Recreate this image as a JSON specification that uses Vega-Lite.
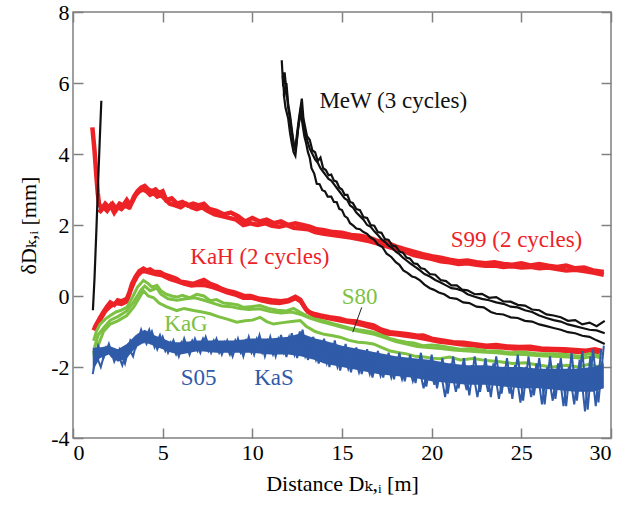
{
"$schema":"https://vega.github.io/schema/vega-lite/v6.json",
"autosize":{"type":"none"},
"padding":{"left":73,"top":12,"right":11,"bottom":68},
"width":538,"height":426,
"background":"white",
"config":{
 "view":{"stroke":"#808080","strokeWidth":1.5},
 "font":"Liberation Serif, Times New Roman, Times, DejaVu Serif, serif",
 "axis":{"labelFont":"Liberation Serif, Times New Roman, Times, DejaVu Serif, serif","titleFont":"Liberation Serif, Times New Roman, Times, DejaVu Serif, serif","labelFontSize":22,"titleFontSize":22,"titleFontWeight":"normal","labelColor":"#000","titleColor":"#000","grid":false,"domain":false,"tickColor":"#808080","tickWidth":1.5,"tickSize":-10}
},
"datasets":{
 "red":[
{"s":"s99a","x":1.08,"y":4.75},{"s":"s99a","x":1.2,"y":4.1},{"s":"s99a","x":1.3,"y":3.4},{"s":"s99a","x":1.38,"y":2.9},{"s":"s99a","x":1.45,"y":2.6},{"s":"s99a","x":1.6,"y":2.45},{"s":"s99a","x":1.8,"y":2.6},{"s":"s99a","x":2.0,"y":2.5},{"s":"s99a","x":2.2,"y":2.6},{"s":"s99a","x":2.4,"y":2.45},{"s":"s99a","x":2.6,"y":2.6},{"s":"s99a","x":2.8,"y":2.55},{"s":"s99a","x":3.0,"y":2.7},{"s":"s99a","x":3.2,"y":2.55},{"s":"s99a","x":3.4,"y":2.8},{"s":"s99a","x":3.6,"y":2.95},{"s":"s99a","x":3.8,"y":3.05},{"s":"s99a","x":4.0,"y":3.1},{"s":"s99a","x":4.2,"y":3.0},{"s":"s99a","x":4.4,"y":2.95},{"s":"s99a","x":4.6,"y":3.0},{"s":"s99a","x":4.8,"y":2.9},{"s":"s99a","x":5.0,"y":2.95},{"s":"s99a","x":5.2,"y":2.7},{"s":"s99a","x":5.5,"y":2.75},{"s":"s99a","x":5.8,"y":2.6},{"s":"s99a","x":6.1,"y":2.65},{"s":"s99a","x":6.4,"y":2.55},{"s":"s99a","x":6.7,"y":2.6},{"s":"s99a","x":7.0,"y":2.55},{"s":"s99a","x":7.3,"y":2.6},{"s":"s99a","x":7.6,"y":2.45},{"s":"s99a","x":8.0,"y":2.4},{"s":"s99a","x":8.4,"y":2.3},{"s":"s99a","x":8.8,"y":2.35},{"s":"s99a","x":9.2,"y":2.25},{"s":"s99a","x":9.6,"y":2.1},{"s":"s99a","x":10.0,"y":2.2},{"s":"s99a","x":10.4,"y":2.1},{"s":"s99a","x":10.8,"y":2.15},{"s":"s99a","x":11.2,"y":2.05},{"s":"s99a","x":11.6,"y":2.1},{"s":"s99a","x":12.0,"y":2.0},{"s":"s99a","x":12.4,"y":2.05},{"s":"s99a","x":12.8,"y":2.0},{"s":"s99a","x":13.2,"y":1.95},{"s":"s99a","x":13.6,"y":1.88},{"s":"s99a","x":14.0,"y":1.85},{"s":"s99a","x":14.5,"y":1.8},{"s":"s99a","x":15.0,"y":1.78},{"s":"s99a","x":15.5,"y":1.72},{"s":"s99a","x":16.0,"y":1.7},{"s":"s99a","x":16.5,"y":1.65},{"s":"s99a","x":17.0,"y":1.55},{"s":"s99a","x":17.5,"y":1.5},{"s":"s99a","x":18.0,"y":1.4},{"s":"s99a","x":18.5,"y":1.32},{"s":"s99a","x":19.0,"y":1.25},{"s":"s99a","x":19.5,"y":1.18},{"s":"s99a","x":20.0,"y":1.12},{"s":"s99a","x":20.5,"y":1.08},{"s":"s99a","x":21.0,"y":1.02},{"s":"s99a","x":21.5,"y":0.98},{"s":"s99a","x":22.0,"y":1.0},{"s":"s99a","x":22.5,"y":0.95},{"s":"s99a","x":23.0,"y":0.92},{"s":"s99a","x":23.5,"y":0.95},{"s":"s99a","x":24.0,"y":0.9},{"s":"s99a","x":24.5,"y":0.88},{"s":"s99a","x":25.0,"y":0.92},{"s":"s99a","x":25.5,"y":0.86},{"s":"s99a","x":26.0,"y":0.9},{"s":"s99a","x":26.5,"y":0.85},{"s":"s99a","x":27.0,"y":0.82},{"s":"s99a","x":27.5,"y":0.86},{"s":"s99a","x":28.0,"y":0.78},{"s":"s99a","x":28.5,"y":0.8},{"s":"s99a","x":29.0,"y":0.72},{"s":"s99a","x":29.6,"y":0.68},
{"s":"s99b","x":1.45,"y":2.35},{"s":"s99b","x":1.7,"y":2.5},{"s":"s99b","x":1.9,"y":2.4},{"s":"s99b","x":2.1,"y":2.55},{"s":"s99b","x":2.3,"y":2.35},{"s":"s99b","x":2.5,"y":2.5},{"s":"s99b","x":2.7,"y":2.45},{"s":"s99b","x":2.9,"y":2.55},{"s":"s99b","x":3.1,"y":2.5},{"s":"s99b","x":3.3,"y":2.65},{"s":"s99b","x":3.5,"y":2.85},{"s":"s99b","x":3.7,"y":2.95},{"s":"s99b","x":3.9,"y":3.0},{"s":"s99b","x":4.1,"y":2.95},{"s":"s99b","x":4.3,"y":2.85},{"s":"s99b","x":4.5,"y":2.9},{"s":"s99b","x":4.7,"y":2.8},{"s":"s99b","x":4.9,"y":2.85},{"s":"s99b","x":5.1,"y":2.75},{"s":"s99b","x":5.4,"y":2.6},{"s":"s99b","x":5.7,"y":2.55},{"s":"s99b","x":6.0,"y":2.5},{"s":"s99b","x":6.3,"y":2.6},{"s":"s99b","x":6.6,"y":2.5},{"s":"s99b","x":6.9,"y":2.45},{"s":"s99b","x":7.2,"y":2.5},{"s":"s99b","x":7.5,"y":2.4},{"s":"s99b","x":7.9,"y":2.3},{"s":"s99b","x":8.3,"y":2.25},{"s":"s99b","x":8.7,"y":2.2},{"s":"s99b","x":9.1,"y":2.15},{"s":"s99b","x":9.5,"y":2.0},{"s":"s99b","x":9.9,"y":2.05},{"s":"s99b","x":10.3,"y":2.0},{"s":"s99b","x":10.7,"y":2.05},{"s":"s99b","x":11.1,"y":1.98},{"s":"s99b","x":11.5,"y":1.95},{"s":"s99b","x":11.9,"y":2.0},{"s":"s99b","x":12.3,"y":1.92},{"s":"s99b","x":12.7,"y":1.9},{"s":"s99b","x":13.1,"y":1.88},{"s":"s99b","x":13.5,"y":1.8},{"s":"s99b","x":14.0,"y":1.75},{"s":"s99b","x":14.5,"y":1.72},{"s":"s99b","x":15.0,"y":1.68},{"s":"s99b","x":15.5,"y":1.65},{"s":"s99b","x":16.0,"y":1.6},{"s":"s99b","x":16.5,"y":1.55},{"s":"s99b","x":17.0,"y":1.48},{"s":"s99b","x":17.5,"y":1.4},{"s":"s99b","x":18.0,"y":1.32},{"s":"s99b","x":18.5,"y":1.25},{"s":"s99b","x":19.0,"y":1.15},{"s":"s99b","x":19.5,"y":1.1},{"s":"s99b","x":20.0,"y":1.05},{"s":"s99b","x":20.5,"y":0.98},{"s":"s99b","x":21.0,"y":0.95},{"s":"s99b","x":21.5,"y":0.9},{"s":"s99b","x":22.0,"y":0.92},{"s":"s99b","x":22.5,"y":0.88},{"s":"s99b","x":23.0,"y":0.85},{"s":"s99b","x":23.5,"y":0.86},{"s":"s99b","x":24.0,"y":0.82},{"s":"s99b","x":24.5,"y":0.84},{"s":"s99b","x":25.0,"y":0.8},{"s":"s99b","x":25.5,"y":0.82},{"s":"s99b","x":26.0,"y":0.78},{"s":"s99b","x":26.5,"y":0.8},{"s":"s99b","x":27.0,"y":0.76},{"s":"s99b","x":27.5,"y":0.72},{"s":"s99b","x":28.0,"y":0.74},{"s":"s99b","x":28.5,"y":0.7},{"s":"s99b","x":29.0,"y":0.66},{"s":"s99b","x":29.6,"y":0.6},
{"s":"kaha","x":1.15,"y":-0.97},{"s":"kaha","x":1.3,"y":-0.8},{"s":"kaha","x":1.52,"y":-0.6},{"s":"kaha","x":1.7,"y":-0.45},{"s":"kaha","x":1.9,"y":-0.3},{"s":"kaha","x":2.08,"y":-0.18},{"s":"kaha","x":2.3,"y":-0.25},{"s":"kaha","x":2.5,"y":-0.12},{"s":"kaha","x":2.7,"y":-0.15},{"s":"kaha","x":3.0,"y":-0.08},{"s":"kaha","x":3.15,"y":0.1},{"s":"kaha","x":3.29,"y":0.34},{"s":"kaha","x":3.5,"y":0.55},{"s":"kaha","x":3.7,"y":0.7},{"s":"kaha","x":3.93,"y":0.77},{"s":"kaha","x":4.1,"y":0.72},{"s":"kaha","x":4.3,"y":0.75},{"s":"kaha","x":4.5,"y":0.68},{"s":"kaha","x":4.86,"y":0.67},{"s":"kaha","x":5.1,"y":0.6},{"s":"kaha","x":5.4,"y":0.55},{"s":"kaha","x":5.79,"y":0.48},{"s":"kaha","x":6.0,"y":0.4},{"s":"kaha","x":6.3,"y":0.38},{"s":"kaha","x":6.72,"y":0.34},{"s":"kaha","x":7.0,"y":0.4},{"s":"kaha","x":7.3,"y":0.45},{"s":"kaha","x":7.65,"y":0.34},{"s":"kaha","x":8.0,"y":0.28},{"s":"kaha","x":8.3,"y":0.2},{"s":"kaha","x":8.58,"y":0.15},{"s":"kaha","x":9.0,"y":0.1},{"s":"kaha","x":9.5,"y":0.01},{"s":"kaha","x":9.9,"y":0.0},{"s":"kaha","x":10.43,"y":-0.08},{"s":"kaha","x":10.8,"y":-0.1},{"s":"kaha","x":11.18,"y":-0.13},{"s":"kaha","x":11.6,"y":-0.15},{"s":"kaha","x":12.0,"y":-0.12},{"s":"kaha","x":12.4,"y":-0.02},{"s":"kaha","x":12.67,"y":-0.1},{"s":"kaha","x":12.9,"y":-0.3},{"s":"kaha","x":13.1,"y":-0.45},{"s":"kaha","x":13.4,"y":-0.5},{"s":"kaha","x":13.8,"y":-0.55},{"s":"kaha","x":14.3,"y":-0.6},{"s":"kaha","x":14.89,"y":-0.64},{"s":"kaha","x":15.3,"y":-0.7},{"s":"kaha","x":15.8,"y":-0.72},{"s":"kaha","x":16.3,"y":-0.78},{"s":"kaha","x":16.75,"y":-0.83},{"s":"kaha","x":17.2,"y":-0.95},{"s":"kaha","x":17.68,"y":-1.02},{"s":"kaha","x":18.2,"y":-1.05},{"s":"kaha","x":18.7,"y":-1.08},{"s":"kaha","x":19.2,"y":-1.12},{"s":"kaha","x":19.53,"y":-1.11},{"s":"kaha","x":20.0,"y":-1.2},{"s":"kaha","x":20.6,"y":-1.25},{"s":"kaha","x":21.2,"y":-1.3},{"s":"kaha","x":21.8,"y":-1.32},{"s":"kaha","x":22.4,"y":-1.36},{"s":"kaha","x":23.06,"y":-1.4},{"s":"kaha","x":23.6,"y":-1.38},{"s":"kaha","x":24.2,"y":-1.42},{"s":"kaha","x":24.9,"y":-1.44},{"s":"kaha","x":25.5,"y":-1.43},{"s":"kaha","x":26.1,"y":-1.48},{"s":"kaha","x":26.77,"y":-1.49},{"s":"kaha","x":27.4,"y":-1.5},{"s":"kaha","x":28.0,"y":-1.52},{"s":"kaha","x":28.6,"y":-1.54},{"s":"kaha","x":29.1,"y":-1.5},{"s":"kaha","x":29.5,"y":-1.55},
{"s":"kahb","x":1.2,"y":-0.9},{"s":"kahb","x":1.5,"y":-0.68},{"s":"kahb","x":1.8,"y":-0.42},{"s":"kahb","x":2.1,"y":-0.28},{"s":"kahb","x":2.4,"y":-0.2},{"s":"kahb","x":2.7,"y":-0.22},{"s":"kahb","x":3.0,"y":-0.15},{"s":"kahb","x":3.2,"y":0.15},{"s":"kahb","x":3.4,"y":0.4},{"s":"kahb","x":3.6,"y":0.58},{"s":"kahb","x":3.8,"y":0.68},{"s":"kahb","x":4.0,"y":0.7},{"s":"kahb","x":4.3,"y":0.66},{"s":"kahb","x":4.6,"y":0.62},{"s":"kahb","x":5.0,"y":0.58},{"s":"kahb","x":5.4,"y":0.48},{"s":"kahb","x":5.8,"y":0.42},{"s":"kahb","x":6.2,"y":0.35},{"s":"kahb","x":6.6,"y":0.3},{"s":"kahb","x":7.0,"y":0.32},{"s":"kahb","x":7.4,"y":0.3},{"s":"kahb","x":7.8,"y":0.25},{"s":"kahb","x":8.2,"y":0.18},{"s":"kahb","x":8.6,"y":0.1},{"s":"kahb","x":9.0,"y":0.05},{"s":"kahb","x":9.5,"y":-0.05},{"s":"kahb","x":10.0,"y":-0.05},{"s":"kahb","x":10.5,"y":-0.12},{"s":"kahb","x":11.0,"y":-0.18},{"s":"kahb","x":11.5,"y":-0.2},{"s":"kahb","x":12.0,"y":-0.15},{"s":"kahb","x":12.4,"y":-0.06},{"s":"kahb","x":12.7,"y":-0.15},{"s":"kahb","x":13.0,"y":-0.38},{"s":"kahb","x":13.4,"y":-0.55},{"s":"kahb","x":14.0,"y":-0.6},{"s":"kahb","x":14.5,"y":-0.65},{"s":"kahb","x":15.0,"y":-0.7},{"s":"kahb","x":15.6,"y":-0.75},{"s":"kahb","x":16.2,"y":-0.82},{"s":"kahb","x":16.8,"y":-0.9},{"s":"kahb","x":17.4,"y":-1.05},{"s":"kahb","x":18.0,"y":-1.08},{"s":"kahb","x":18.6,"y":-1.12},{"s":"kahb","x":19.2,"y":-1.16},{"s":"kahb","x":19.8,"y":-1.22},{"s":"kahb","x":20.4,"y":-1.28},{"s":"kahb","x":21.0,"y":-1.32},{"s":"kahb","x":21.6,"y":-1.36},{"s":"kahb","x":22.2,"y":-1.38},{"s":"kahb","x":22.8,"y":-1.42},{"s":"kahb","x":23.4,"y":-1.44},{"s":"kahb","x":24.0,"y":-1.45},{"s":"kahb","x":24.6,"y":-1.48},{"s":"kahb","x":25.2,"y":-1.47},{"s":"kahb","x":25.8,"y":-1.5},{"s":"kahb","x":26.4,"y":-1.52},{"s":"kahb","x":27.0,"y":-1.53},{"s":"kahb","x":27.6,"y":-1.55},{"s":"kahb","x":28.2,"y":-1.58},{"s":"kahb","x":28.8,"y":-1.55},{"s":"kahb","x":29.5,"y":-1.6}
 ],
 "green":[
{"s":"g1","x":1.15,"y":-1.26},{"s":"g1","x":1.3,"y":-1.0},{"s":"g1","x":1.5,"y":-0.8},{"s":"g1","x":1.8,"y":-0.65},{"s":"g1","x":2.08,"y":-0.55},{"s":"g1","x":2.4,"y":-0.45},{"s":"g1","x":2.7,"y":-0.4},{"s":"g1","x":3.0,"y":-0.32},{"s":"g1","x":3.3,"y":-0.05},{"s":"g1","x":3.6,"y":0.25},{"s":"g1","x":3.93,"y":0.44},{"s":"g1","x":4.2,"y":0.35},{"s":"g1","x":4.4,"y":0.25},{"s":"g1","x":4.68,"y":0.3},{"s":"g1","x":4.9,"y":0.15},{"s":"g1","x":5.2,"y":0.05},{"s":"g1","x":5.5,"y":0.0},{"s":"g1","x":5.79,"y":-0.03},{"s":"g1","x":6.1,"y":0.02},{"s":"g1","x":6.5,"y":-0.05},{"s":"g1","x":6.9,"y":0.05},{"s":"g1","x":7.3,"y":0.0},{"s":"g1","x":7.65,"y":-0.13},{"s":"g1","x":8.0,"y":-0.1},{"s":"g1","x":8.4,"y":-0.2},{"s":"g1","x":8.8,"y":-0.22},{"s":"g1","x":9.2,"y":-0.25},{"s":"g1","x":9.5,"y":-0.32},{"s":"g1","x":9.9,"y":-0.3},{"s":"g1","x":10.43,"y":-0.27},{"s":"g1","x":10.9,"y":-0.35},{"s":"g1","x":11.4,"y":-0.4},{"s":"g1","x":11.9,"y":-0.42},{"s":"g1","x":12.3,"y":-0.35},{"s":"g1","x":12.67,"y":-0.46},{"s":"g1","x":13.0,"y":-0.55},{"s":"g1","x":13.5,"y":-0.65},{"s":"g1","x":14.0,"y":-0.7},{"s":"g1","x":14.5,"y":-0.78},{"s":"g1","x":14.89,"y":-0.83},{"s":"g1","x":15.4,"y":-0.9},{"s":"g1","x":15.9,"y":-0.95},{"s":"g1","x":16.3,"y":-0.98},{"s":"g1","x":16.75,"y":-1.02},{"s":"g1","x":17.2,"y":-1.1},{"s":"g1","x":17.7,"y":-1.2},{"s":"g1","x":18.1,"y":-1.25},{"s":"g1","x":18.6,"y":-1.3},{"s":"g1","x":19.0,"y":-1.32},{"s":"g1","x":19.5,"y":-1.4},{"s":"g1","x":20.0,"y":-1.38},{"s":"g1","x":20.44,"y":-1.4},{"s":"g1","x":21.0,"y":-1.45},{"s":"g1","x":21.6,"y":-1.5},{"s":"g1","x":22.2,"y":-1.48},{"s":"g1","x":23.06,"y":-1.54},{"s":"g1","x":23.7,"y":-1.55},{"s":"g1","x":24.4,"y":-1.6},{"s":"g1","x":25.1,"y":-1.58},{"s":"g1","x":25.8,"y":-1.62},{"s":"g1","x":26.77,"y":-1.63},{"s":"g1","x":27.5,"y":-1.65},{"s":"g1","x":28.2,"y":-1.7},{"s":"g1","x":28.8,"y":-1.62},{"s":"g1","x":29.3,"y":-1.68},{"s":"g1","x":29.55,"y":-1.6},
{"s":"g2","x":1.2,"y":-1.45},{"s":"g2","x":1.4,"y":-1.1},{"s":"g2","x":1.7,"y":-0.9},{"s":"g2","x":2.08,"y":-0.68},{"s":"g2","x":2.5,"y":-0.58},{"s":"g2","x":3.0,"y":-0.42},{"s":"g2","x":3.4,"y":-0.15},{"s":"g2","x":3.8,"y":0.18},{"s":"g2","x":4.0,"y":0.28},{"s":"g2","x":4.3,"y":0.15},{"s":"g2","x":4.68,"y":0.22},{"s":"g2","x":4.9,"y":0.05},{"s":"g2","x":5.3,"y":-0.08},{"s":"g2","x":5.8,"y":-0.12},{"s":"g2","x":6.3,"y":-0.08},{"s":"g2","x":6.8,"y":-0.05},{"s":"g2","x":7.3,"y":-0.12},{"s":"g2","x":7.8,"y":-0.2},{"s":"g2","x":8.3,"y":-0.28},{"s":"g2","x":8.8,"y":-0.3},{"s":"g2","x":9.3,"y":-0.35},{"s":"g2","x":9.8,"y":-0.38},{"s":"g2","x":10.4,"y":-0.36},{"s":"g2","x":11.0,"y":-0.44},{"s":"g2","x":11.6,"y":-0.48},{"s":"g2","x":12.2,"y":-0.45},{"s":"g2","x":12.7,"y":-0.52},{"s":"g2","x":13.2,"y":-0.62},{"s":"g2","x":13.8,"y":-0.72},{"s":"g2","x":14.4,"y":-0.8},{"s":"g2","x":15.0,"y":-0.88},{"s":"g2","x":15.6,"y":-0.96},{"s":"g2","x":16.2,"y":-1.02},{"s":"g2","x":16.8,"y":-1.08},{"s":"g2","x":17.4,"y":-1.18},{"s":"g2","x":18.0,"y":-1.28},{"s":"g2","x":18.6,"y":-1.35},{"s":"g2","x":19.2,"y":-1.42},{"s":"g2","x":19.8,"y":-1.45},{"s":"g2","x":20.5,"y":-1.48},{"s":"g2","x":21.2,"y":-1.52},{"s":"g2","x":22.0,"y":-1.55},{"s":"g2","x":22.8,"y":-1.58},{"s":"g2","x":23.6,"y":-1.6},{"s":"g2","x":24.4,"y":-1.64},{"s":"g2","x":25.2,"y":-1.65},{"s":"g2","x":26.0,"y":-1.68},{"s":"g2","x":26.8,"y":-1.7},{"s":"g2","x":27.6,"y":-1.72},{"s":"g2","x":28.4,"y":-1.75},{"s":"g2","x":29.0,"y":-1.7},{"s":"g2","x":29.55,"y":-1.75},
{"s":"g3","x":1.15,"y":-1.54},{"s":"g3","x":1.24,"y":-1.91},{"s":"g3","x":1.4,"y":-1.4},{"s":"g3","x":1.7,"y":-1.0},{"s":"g3","x":2.08,"y":-0.79},{"s":"g3","x":2.5,"y":-0.7},{"s":"g3","x":3.0,"y":-0.55},{"s":"g3","x":3.4,"y":-0.3},{"s":"g3","x":3.7,"y":-0.05},{"s":"g3","x":3.93,"y":0.15},{"s":"g3","x":4.2,"y":0.0},{"s":"g3","x":4.5,"y":-0.05},{"s":"g3","x":4.8,"y":-0.2},{"s":"g3","x":5.2,"y":-0.3},{"s":"g3","x":5.79,"y":-0.41},{"s":"g3","x":6.2,"y":-0.35},{"s":"g3","x":6.72,"y":-0.41},{"s":"g3","x":7.2,"y":-0.45},{"s":"g3","x":7.65,"y":-0.5},{"s":"g3","x":8.1,"y":-0.58},{"s":"g3","x":8.6,"y":-0.65},{"s":"g3","x":9.13,"y":-0.74},{"s":"g3","x":9.6,"y":-0.7},{"s":"g3","x":10.0,"y":-0.68},{"s":"g3","x":10.43,"y":-0.6},{"s":"g3","x":10.8,"y":-0.72},{"s":"g3","x":11.18,"y":-0.79},{"s":"g3","x":11.7,"y":-0.75},{"s":"g3","x":12.2,"y":-0.72},{"s":"g3","x":12.67,"y":-0.69},{"s":"g3","x":13.0,"y":-0.85},{"s":"g3","x":13.5,"y":-1.0},{"s":"g3","x":14.0,"y":-1.08},{"s":"g3","x":14.5,"y":-1.12},{"s":"g3","x":14.89,"y":-1.16},{"s":"g3","x":15.4,"y":-1.25},{"s":"g3","x":15.9,"y":-1.3},{"s":"g3","x":16.3,"y":-1.32},{"s":"g3","x":16.75,"y":-1.35},{"s":"g3","x":17.2,"y":-1.45},{"s":"g3","x":17.7,"y":-1.55},{"s":"g3","x":18.2,"y":-1.6},{"s":"g3","x":18.6,"y":-1.63},{"s":"g3","x":19.1,"y":-1.7},{"s":"g3","x":19.6,"y":-1.72},{"s":"g3","x":20.0,"y":-1.75},{"s":"g3","x":20.44,"y":-1.77},{"s":"g3","x":21.0,"y":-1.72},{"s":"g3","x":21.6,"y":-1.8},{"s":"g3","x":22.3,"y":-1.76},{"s":"g3","x":23.06,"y":-1.82},{"s":"g3","x":23.8,"y":-1.85},{"s":"g3","x":24.5,"y":-1.9},{"s":"g3","x":25.2,"y":-1.88},{"s":"g3","x":26.0,"y":-1.95},{"s":"g3","x":26.77,"y":-2.0},{"s":"g3","x":27.5,"y":-1.95},{"s":"g3","x":28.2,"y":-2.0},{"s":"g3","x":28.8,"y":-1.92},{"s":"g3","x":29.3,"y":-2.0},{"s":"g3","x":29.55,"y":-1.85}
 ],
 "band":[
{"x":1.1,"hi":-1.45,"lo":-2.1},{"x":1.5,"hi":-1.45,"lo":-1.75},{"x":2.0,"hi":-1.4,"lo":-1.65},{"x":2.5,"hi":-1.5,"lo":-1.85},{"x":3.0,"hi":-1.35,"lo":-1.75},{"x":3.5,"hi":-1.1,"lo":-1.45},{"x":4.0,"hi":-0.95,"lo":-1.3},{"x":4.5,"hi":-1.1,"lo":-1.4},{"x":5.0,"hi":-1.2,"lo":-1.5},{"x":5.5,"hi":-1.3,"lo":-1.6},{"x":6.0,"hi":-1.3,"lo":-1.65},{"x":7.0,"hi":-1.25,"lo":-1.55},{"x":8.0,"hi":-1.25,"lo":-1.6},{"x":9.0,"hi":-1.25,"lo":-1.6},{"x":10.0,"hi":-1.2,"lo":-1.6},{"x":11.0,"hi":-1.2,"lo":-1.65},{"x":12.0,"hi":-1.15,"lo":-1.65},{"x":12.7,"hi":-1.05,"lo":-1.7},{"x":13.5,"hi":-1.2,"lo":-1.8},{"x":14.0,"hi":-1.25,"lo":-1.9},{"x":15.0,"hi":-1.4,"lo":-2.0},{"x":16.0,"hi":-1.5,"lo":-2.1},{"x":17.0,"hi":-1.6,"lo":-2.2},{"x":18.0,"hi":-1.7,"lo":-2.25},{"x":19.0,"hi":-1.75,"lo":-2.3},{"x":20.0,"hi":-1.8,"lo":-2.4},{"x":21.0,"hi":-1.9,"lo":-2.45},{"x":22.0,"hi":-1.95,"lo":-2.5},{"x":23.0,"hi":-1.95,"lo":-2.5},{"x":24.0,"hi":-2.0,"lo":-2.55},{"x":25.0,"hi":-2.0,"lo":-2.6},{"x":26.0,"hi":-2.05,"lo":-2.6},{"x":27.0,"hi":-2.05,"lo":-2.65},{"x":28.0,"hi":-2.05,"lo":-2.7},{"x":29.0,"hi":-2.0,"lo":-2.7},{"x":29.6,"hi":-1.9,"lo":-2.6}
 ],
 "blue":[
{"s":"b1","x":1.1,"y":-2.2},{"s":"b1","x":1.4,"y":-1.4},{"s":"b1","x":1.7,"y":-1.75},{"s":"b1","x":2.0,"y":-1.35},{"s":"b1","x":2.3,"y":-1.85},{"s":"b1","x":2.6,"y":-1.5},{"s":"b1","x":2.9,"y":-1.9},{"s":"b1","x":3.2,"y":-1.25},{"s":"b1","x":3.5,"y":-1.45},{"s":"b1","x":3.8,"y":-0.95},{"s":"b1","x":4.1,"y":-1.35},{"s":"b1","x":4.4,"y":-1.0},{"s":"b1","x":4.7,"y":-1.5},{"s":"b1","x":5.0,"y":-1.15},{"s":"b1","x":5.3,"y":-1.6},{"s":"b1","x":5.6,"y":-1.25},{"s":"b1","x":5.9,"y":-1.7},{"s":"b1","x":6.2,"y":-1.2},{"s":"b1","x":6.5,"y":-1.65},{"s":"b1","x":6.8,"y":-1.2},{"s":"b1","x":7.1,"y":-1.6},{"s":"b1","x":7.4,"y":-1.15},{"s":"b1","x":7.7,"y":-1.6},{"s":"b1","x":8.0,"y":-1.2},{"s":"b1","x":8.3,"y":-1.65},{"s":"b1","x":8.6,"y":-1.25},{"s":"b1","x":8.9,"y":-1.7},{"s":"b1","x":9.2,"y":-1.2},{"s":"b1","x":9.5,"y":-1.7},{"s":"b1","x":9.8,"y":-1.15},{"s":"b1","x":10.1,"y":-1.65},{"s":"b1","x":10.4,"y":-1.1},{"s":"b1","x":10.7,"y":-1.7},{"s":"b1","x":11.0,"y":-1.15},{"s":"b1","x":11.3,"y":-1.7},{"s":"b1","x":11.6,"y":-1.1},{"s":"b1","x":11.9,"y":-1.72},{"s":"b1","x":12.2,"y":-1.05},{"s":"b1","x":12.5,"y":-1.75},{"s":"b1","x":12.8,"y":-0.95},{"s":"b1","x":13.1,"y":-1.8},{"s":"b1","x":13.4,"y":-1.15},{"s":"b1","x":13.7,"y":-1.9},{"s":"b1","x":14.0,"y":-1.2},{"s":"b1","x":14.3,"y":-2.0},{"s":"b1","x":14.6,"y":-1.25},{"s":"b1","x":14.9,"y":-2.1},{"s":"b1","x":15.2,"y":-1.35},{"s":"b1","x":15.5,"y":-2.15},{"s":"b1","x":15.8,"y":-1.45},{"s":"b1","x":16.1,"y":-2.2},{"s":"b1","x":16.4,"y":-1.5},{"s":"b1","x":16.7,"y":-2.3},{"s":"b1","x":17.0,"y":-1.55},{"s":"b1","x":17.3,"y":-2.3},{"s":"b1","x":17.6,"y":-1.6},{"s":"b1","x":17.9,"y":-2.35},{"s":"b1","x":18.2,"y":-1.6},{"s":"b1","x":18.5,"y":-2.4},{"s":"b1","x":18.8,"y":-1.65},{"s":"b1","x":19.1,"y":-2.45},{"s":"b1","x":19.4,"y":-1.6},{"s":"b1","x":19.7,"y":-2.55},{"s":"b1","x":20.0,"y":-1.65},{"s":"b1","x":20.3,"y":-2.6},{"s":"b1","x":20.6,"y":-1.75},{"s":"b1","x":20.9,"y":-2.75},{"s":"b1","x":21.2,"y":-1.7},{"s":"b1","x":21.5,"y":-2.6},{"s":"b1","x":21.8,"y":-1.75},{"s":"b1","x":22.1,"y":-2.8},{"s":"b1","x":22.4,"y":-1.7},{"s":"b1","x":22.7,"y":-2.7},{"s":"b1","x":23.0,"y":-1.75},{"s":"b1","x":23.3,"y":-2.85},{"s":"b1","x":23.6,"y":-1.7},{"s":"b1","x":23.9,"y":-2.75},{"s":"b1","x":24.2,"y":-1.75},{"s":"b1","x":24.5,"y":-2.9},{"s":"b1","x":24.8,"y":-1.65},{"s":"b1","x":25.1,"y":-2.95},{"s":"b1","x":25.4,"y":-1.7},{"s":"b1","x":25.7,"y":-2.8},{"s":"b1","x":26.0,"y":-1.75},{"s":"b1","x":26.3,"y":-3.05},{"s":"b1","x":26.6,"y":-1.7},{"s":"b1","x":26.9,"y":-2.9},{"s":"b1","x":27.2,"y":-1.75},{"s":"b1","x":27.5,"y":-3.1},{"s":"b1","x":27.8,"y":-1.6},{"s":"b1","x":28.1,"y":-2.95},{"s":"b1","x":28.4,"y":-1.55},{"s":"b1","x":28.7,"y":-3.2},{"s":"b1","x":29.0,"y":-1.5},{"s":"b1","x":29.3,"y":-3.0},{"s":"b1","x":29.6,"y":-1.4},
{"s":"b2","x":1.25,"y":-1.6},{"s":"b2","x":1.55,"y":-2.0},{"s":"b2","x":1.85,"y":-1.45},{"s":"b2","x":2.15,"y":-1.7},{"s":"b2","x":2.45,"y":-1.55},{"s":"b2","x":2.75,"y":-1.95},{"s":"b2","x":3.05,"y":-1.4},{"s":"b2","x":3.35,"y":-1.7},{"s":"b2","x":3.65,"y":-1.1},{"s":"b2","x":3.95,"y":-1.3},{"s":"b2","x":4.25,"y":-0.95},{"s":"b2","x":4.55,"y":-1.45},{"s":"b2","x":4.85,"y":-1.1},{"s":"b2","x":5.15,"y":-1.55},{"s":"b2","x":5.45,"y":-1.3},{"s":"b2","x":5.75,"y":-1.65},{"s":"b2","x":6.05,"y":-1.3},{"s":"b2","x":6.35,"y":-1.55},{"s":"b2","x":6.65,"y":-1.25},{"s":"b2","x":6.95,"y":-1.55},{"s":"b2","x":7.25,"y":-1.2},{"s":"b2","x":7.55,"y":-1.55},{"s":"b2","x":7.85,"y":-1.25},{"s":"b2","x":8.15,"y":-1.6},{"s":"b2","x":8.45,"y":-1.3},{"s":"b2","x":8.75,"y":-1.65},{"s":"b2","x":9.05,"y":-1.25},{"s":"b2","x":9.35,"y":-1.6},{"s":"b2","x":9.65,"y":-1.25},{"s":"b2","x":9.95,"y":-1.6},{"s":"b2","x":10.25,"y":-1.2},{"s":"b2","x":10.55,"y":-1.6},{"s":"b2","x":10.85,"y":-1.25},{"s":"b2","x":11.15,"y":-1.65},{"s":"b2","x":11.45,"y":-1.2},{"s":"b2","x":11.75,"y":-1.6},{"s":"b2","x":12.05,"y":-1.15},{"s":"b2","x":12.35,"y":-1.65},{"s":"b2","x":12.65,"y":-1.0},{"s":"b2","x":12.95,"y":-1.7},{"s":"b2","x":13.25,"y":-1.3},{"s":"b2","x":13.55,"y":-1.8},{"s":"b2","x":13.85,"y":-1.35},{"s":"b2","x":14.15,"y":-1.9},{"s":"b2","x":14.45,"y":-1.4},{"s":"b2","x":14.75,"y":-2.0},{"s":"b2","x":15.05,"y":-1.5},{"s":"b2","x":15.35,"y":-2.05},{"s":"b2","x":15.65,"y":-1.6},{"s":"b2","x":15.95,"y":-2.15},{"s":"b2","x":16.25,"y":-1.65},{"s":"b2","x":16.55,"y":-2.2},{"s":"b2","x":16.85,"y":-1.7},{"s":"b2","x":17.15,"y":-2.25},{"s":"b2","x":17.45,"y":-1.75},{"s":"b2","x":17.75,"y":-2.3},{"s":"b2","x":18.05,"y":-1.8},{"s":"b2","x":18.35,"y":-2.35},{"s":"b2","x":18.65,"y":-1.85},{"s":"b2","x":18.95,"y":-2.4},{"s":"b2","x":19.25,"y":-1.9},{"s":"b2","x":19.55,"y":-2.6},{"s":"b2","x":19.85,"y":-1.85},{"s":"b2","x":20.15,"y":-2.5},{"s":"b2","x":20.45,"y":-1.95},{"s":"b2","x":20.75,"y":-2.85},{"s":"b2","x":21.05,"y":-1.9},{"s":"b2","x":21.35,"y":-2.7},{"s":"b2","x":21.65,"y":-2.0},{"s":"b2","x":21.95,"y":-2.65},{"s":"b2","x":22.25,"y":-1.95},{"s":"b2","x":22.55,"y":-2.85},{"s":"b2","x":22.85,"y":-2.0},{"s":"b2","x":23.15,"y":-2.7},{"s":"b2","x":23.45,"y":-1.9},{"s":"b2","x":23.75,"y":-2.9},{"s":"b2","x":24.05,"y":-2.0},{"s":"b2","x":24.35,"y":-2.75},{"s":"b2","x":24.65,"y":-1.95},{"s":"b2","x":24.95,"y":-3.0},{"s":"b2","x":25.25,"y":-2.0},{"s":"b2","x":25.55,"y":-2.85},{"s":"b2","x":25.85,"y":-1.9},{"s":"b2","x":26.15,"y":-3.05},{"s":"b2","x":26.45,"y":-2.0},{"s":"b2","x":26.75,"y":-2.95},{"s":"b2","x":27.05,"y":-1.9},{"s":"b2","x":27.35,"y":-3.1},{"s":"b2","x":27.65,"y":-2.0},{"s":"b2","x":27.95,"y":-3.05},{"s":"b2","x":28.25,"y":-1.8},{"s":"b2","x":28.55,"y":-3.25},{"s":"b2","x":28.85,"y":-1.7},{"s":"b2","x":29.15,"y":-3.1},{"s":"b2","x":29.45,"y":-1.5}
 ],
 "black":[
{"s":"k0","x":1.11,"y":-0.4},{"s":"k0","x":1.2,"y":0.5},{"s":"k0","x":1.3,"y":1.8},{"s":"k0","x":1.4,"y":3.2},{"s":"k0","x":1.5,"y":4.5},{"s":"k0","x":1.58,"y":5.5},
{"s":"k1","x":11.64,"y":6.64},{"s":"k1","x":11.72,"y":5.9},{"s":"k1","x":11.8,"y":6.3},{"s":"k1","x":11.9,"y":5.8},{"s":"k1","x":12.0,"y":5.3},{"s":"k1","x":12.1,"y":5.0},{"s":"k1","x":12.2,"y":4.6},{"s":"k1","x":12.3,"y":4.3},{"s":"k1","x":12.38,"y":4.1},{"s":"k1","x":12.5,"y":4.6},{"s":"k1","x":12.6,"y":5.0},{"s":"k1","x":12.76,"y":5.56},{"s":"k1","x":12.85,"y":5.0},{"s":"k1","x":12.95,"y":4.75},{"s":"k1","x":13.05,"y":4.5},{"s":"k1","x":13.2,"y":4.4},{"s":"k1","x":13.35,"y":4.1},{"s":"k1","x":13.5,"y":4.05},{"s":"k1","x":13.65,"y":3.8},{"s":"k1","x":13.8,"y":3.9},{"s":"k1","x":13.95,"y":3.6},{"s":"k1","x":14.1,"y":3.55},{"s":"k1","x":14.25,"y":3.4},{"s":"k1","x":14.4,"y":3.42},{"s":"k1","x":14.55,"y":3.25},{"s":"k1","x":14.7,"y":3.22},{"s":"k1","x":14.85,"y":3.05},{"s":"k1","x":15.0,"y":3.0},{"s":"k1","x":15.15,"y":2.85},{"s":"k1","x":15.3,"y":2.85},{"s":"k1","x":15.45,"y":2.65},{"s":"k1","x":15.6,"y":2.62},{"s":"k1","x":15.8,"y":2.45},{"s":"k1","x":16.0,"y":2.42},{"s":"k1","x":16.2,"y":2.22},{"s":"k1","x":16.4,"y":2.2},{"s":"k1","x":16.6,"y":2.0},{"s":"k1","x":16.8,"y":1.98},{"s":"k1","x":17.0,"y":1.8},{"s":"k1","x":17.2,"y":1.78},{"s":"k1","x":17.4,"y":1.6},{"s":"k1","x":17.6,"y":1.58},{"s":"k1","x":17.8,"y":1.42},{"s":"k1","x":18.0,"y":1.4},{"s":"k1","x":18.2,"y":1.25},{"s":"k1","x":18.4,"y":1.22},{"s":"k1","x":18.6,"y":1.08},{"s":"k1","x":18.8,"y":1.05},{"s":"k1","x":19.0,"y":0.92},{"s":"k1","x":19.2,"y":0.9},{"s":"k1","x":19.4,"y":0.78},{"s":"k1","x":19.6,"y":0.76},{"s":"k1","x":19.9,"y":0.62},{"s":"k1","x":20.2,"y":0.6},{"s":"k1","x":20.5,"y":0.45},{"s":"k1","x":20.8,"y":0.42},{"s":"k1","x":21.1,"y":0.3},{"s":"k1","x":21.4,"y":0.3},{"s":"k1","x":21.7,"y":0.18},{"s":"k1","x":22.0,"y":0.16},{"s":"k1","x":22.4,"y":0.05},{"s":"k1","x":22.8,"y":0.06},{"s":"k1","x":23.2,"y":-0.05},{"s":"k1","x":23.6,"y":-0.03},{"s":"k1","x":24.0,"y":-0.15},{"s":"k1","x":24.4,"y":-0.16},{"s":"k1","x":24.8,"y":-0.25},{"s":"k1","x":25.2,"y":-0.27},{"s":"k1","x":25.6,"y":-0.38},{"s":"k1","x":26.0,"y":-0.4},{"s":"k1","x":26.4,"y":-0.52},{"s":"k1","x":26.8,"y":-0.55},{"s":"k1","x":27.2,"y":-0.6},{"s":"k1","x":27.6,"y":-0.7},{"s":"k1","x":28.0,"y":-0.68},{"s":"k1","x":28.4,"y":-0.8},{"s":"k1","x":28.8,"y":-0.75},{"s":"k1","x":29.2,"y":-0.85},{"s":"k1","x":29.65,"y":-0.7},
{"s":"k2","x":11.7,"y":6.2},{"s":"k2","x":11.78,"y":5.6},{"s":"k2","x":11.9,"y":6.0},{"s":"k2","x":12.0,"y":5.4},{"s":"k2","x":12.1,"y":5.1},{"s":"k2","x":12.2,"y":4.7},{"s":"k2","x":12.32,"y":4.25},{"s":"k2","x":12.42,"y":4.15},{"s":"k2","x":12.55,"y":4.7},{"s":"k2","x":12.7,"y":5.3},{"s":"k2","x":12.8,"y":5.1},{"s":"k2","x":12.92,"y":4.6},{"s":"k2","x":13.05,"y":4.4},{"s":"k2","x":13.2,"y":4.15},{"s":"k2","x":13.35,"y":4.0},{"s":"k2","x":13.5,"y":3.85},{"s":"k2","x":13.65,"y":3.75},{"s":"k2","x":13.8,"y":3.6},{"s":"k2","x":13.95,"y":3.5},{"s":"k2","x":14.1,"y":3.4},{"s":"k2","x":14.25,"y":3.3},{"s":"k2","x":14.4,"y":3.25},{"s":"k2","x":14.55,"y":3.15},{"s":"k2","x":14.7,"y":3.05},{"s":"k2","x":14.85,"y":2.95},{"s":"k2","x":15.0,"y":2.85},{"s":"k2","x":15.15,"y":2.75},{"s":"k2","x":15.3,"y":2.7},{"s":"k2","x":15.45,"y":2.55},{"s":"k2","x":15.6,"y":2.5},{"s":"k2","x":15.8,"y":2.35},{"s":"k2","x":16.0,"y":2.25},{"s":"k2","x":16.2,"y":2.15},{"s":"k2","x":16.4,"y":2.0},{"s":"k2","x":16.6,"y":1.95},{"s":"k2","x":16.8,"y":1.82},{"s":"k2","x":17.0,"y":1.72},{"s":"k2","x":17.2,"y":1.6},{"s":"k2","x":17.4,"y":1.52},{"s":"k2","x":17.6,"y":1.42},{"s":"k2","x":17.8,"y":1.35},{"s":"k2","x":18.0,"y":1.25},{"s":"k2","x":18.2,"y":1.18},{"s":"k2","x":18.4,"y":1.08},{"s":"k2","x":18.6,"y":1.0},{"s":"k2","x":18.8,"y":0.92},{"s":"k2","x":19.0,"y":0.85},{"s":"k2","x":19.2,"y":0.78},{"s":"k2","x":19.4,"y":0.7},{"s":"k2","x":19.6,"y":0.62},{"s":"k2","x":19.9,"y":0.55},{"s":"k2","x":20.2,"y":0.45},{"s":"k2","x":20.5,"y":0.38},{"s":"k2","x":20.8,"y":0.3},{"s":"k2","x":21.1,"y":0.22},{"s":"k2","x":21.4,"y":0.2},{"s":"k2","x":21.7,"y":0.15},{"s":"k2","x":22.0,"y":0.05},{"s":"k2","x":22.4,"y":-0.02},{"s":"k2","x":22.8,"y":-0.08},{"s":"k2","x":23.2,"y":-0.12},{"s":"k2","x":23.6,"y":-0.18},{"s":"k2","x":24.0,"y":-0.22},{"s":"k2","x":24.4,"y":-0.3},{"s":"k2","x":24.8,"y":-0.32},{"s":"k2","x":25.2,"y":-0.4},{"s":"k2","x":25.6,"y":-0.45},{"s":"k2","x":26.0,"y":-0.55},{"s":"k2","x":26.4,"y":-0.62},{"s":"k2","x":26.8,"y":-0.68},{"s":"k2","x":27.2,"y":-0.72},{"s":"k2","x":27.6,"y":-0.8},{"s":"k2","x":28.0,"y":-0.85},{"s":"k2","x":28.4,"y":-0.9},{"s":"k2","x":28.8,"y":-0.95},{"s":"k2","x":29.2,"y":-0.97},{"s":"k2","x":29.65,"y":-1.05},
{"s":"k3","x":11.75,"y":5.7},{"s":"k3","x":11.85,"y":5.3},{"s":"k3","x":12.0,"y":5.0},{"s":"k3","x":12.1,"y":4.6},{"s":"k3","x":12.2,"y":4.3},{"s":"k3","x":12.3,"y":4.05},{"s":"k3","x":12.4,"y":3.95},{"s":"k3","x":12.55,"y":4.7},{"s":"k3","x":12.7,"y":5.2},{"s":"k3","x":12.78,"y":4.9},{"s":"k3","x":12.9,"y":4.5},{"s":"k3","x":13.0,"y":4.3},{"s":"k3","x":13.1,"y":4.05},{"s":"k3","x":13.2,"y":3.9},{"s":"k3","x":13.3,"y":3.6},{"s":"k3","x":13.45,"y":3.45},{"s":"k3","x":13.59,"y":3.16},{"s":"k3","x":13.75,"y":3.15},{"s":"k3","x":13.9,"y":2.98},{"s":"k3","x":14.05,"y":2.95},{"s":"k3","x":14.2,"y":2.8},{"s":"k3","x":14.4,"y":2.8},{"s":"k3","x":14.55,"y":2.65},{"s":"k3","x":14.71,"y":2.64},{"s":"k3","x":14.85,"y":2.45},{"s":"k3","x":15.0,"y":2.42},{"s":"k3","x":15.15,"y":2.25},{"s":"k3","x":15.3,"y":2.2},{"s":"k3","x":15.45,"y":2.05},{"s":"k3","x":15.63,"y":1.98},{"s":"k3","x":15.8,"y":1.9},{"s":"k3","x":16.0,"y":1.88},{"s":"k3","x":16.2,"y":1.8},{"s":"k3","x":16.4,"y":1.75},{"s":"k3","x":16.56,"y":1.66},{"s":"k3","x":16.8,"y":1.58},{"s":"k3","x":17.0,"y":1.45},{"s":"k3","x":17.25,"y":1.38},{"s":"k3","x":17.49,"y":1.19},{"s":"k3","x":17.75,"y":1.1},{"s":"k3","x":18.0,"y":0.95},{"s":"k3","x":18.2,"y":0.88},{"s":"k3","x":18.42,"y":0.72},{"s":"k3","x":18.65,"y":0.65},{"s":"k3","x":18.9,"y":0.55},{"s":"k3","x":19.1,"y":0.52},{"s":"k3","x":19.35,"y":0.44},{"s":"k3","x":19.6,"y":0.32},{"s":"k3","x":19.9,"y":0.22},{"s":"k3","x":20.1,"y":0.18},{"s":"k3","x":20.4,"y":0.1},{"s":"k3","x":20.7,"y":0.05},{"s":"k3","x":21.0,"y":-0.05},{"s":"k3","x":21.4,"y":-0.08},{"s":"k3","x":21.76,"y":-0.18},{"s":"k3","x":22.1,"y":-0.2},{"s":"k3","x":22.5,"y":-0.3},{"s":"k3","x":22.9,"y":-0.32},{"s":"k3","x":23.3,"y":-0.45},{"s":"k3","x":23.6,"y":-0.5},{"s":"k3","x":24.0,"y":-0.52},{"s":"k3","x":24.4,"y":-0.6},{"s":"k3","x":24.8,"y":-0.62},{"s":"k3","x":25.2,"y":-0.7},{"s":"k3","x":25.6,"y":-0.72},{"s":"k3","x":26.0,"y":-0.8},{"s":"k3","x":26.4,"y":-0.85},{"s":"k3","x":26.8,"y":-0.9},{"s":"k3","x":27.2,"y":-0.95},{"s":"k3","x":27.6,"y":-1.02},{"s":"k3","x":28.0,"y":-1.05},{"s":"k3","x":28.4,"y":-1.12},{"s":"k3","x":28.8,"y":-1.15},{"s":"k3","x":29.2,"y":-1.25},{"s":"k3","x":29.65,"y":-1.35}
 ],
 "labels":[
{"t":"MeW (3 cycles)","x":13.74,"y":5.3,"c":"k"},
{"t":"S99 (2 cycles)","x":21.06,"y":1.37,"c":"r"},
{"t":"KaH (2 cycles)","x":6.54,"y":0.89,"c":"r"},
{"t":"S80","x":14.98,"y":-0.22,"c":"g"},
{"t":"KaG","x":5.09,"y":-0.99,"c":"g"},
{"t":"S05","x":6.01,"y":-2.5,"c":"b"},
{"t":"KaS","x":10.1,"y":-2.5,"c":"b"}
 ],
 "leader":[{"x":16.1,"y":-0.32,"x2":15.6,"y2":-1.02}]
},
"resolve":{"axis":{"x":"independent","y":"independent"}},
"layer":[
 {"data":{"name":"red"},"mark":{"type":"line","color":"#ec2227","strokeWidth":4.5,"clip":true},
  "encoding":{
   "x":{"field":"x","type":"quantitative","scale":{"domain":[0,30],"nice":false},"axis":{"values":[0,5,10,15,20,25,30],"title":"Distance Dₖ,ᵢ [m]","labelPadding":14,"titlePadding":10}},
   "y":{"field":"y","type":"quantitative","scale":{"domain":[-4,8],"nice":false},"axis":{"values":[-4,-2,0,2,4,6,8],"title":"δDₖ,ᵢ [mm]","labelExpr":"datum.value","labelPadding":14,"titlePadding":10}},
   "detail":{"field":"s"},"order":{"field":"x","type":"quantitative"}}},
 {"data":{"name":"green"},"mark":{"type":"line","color":"#7dc142","strokeWidth":3,"clip":true},
  "encoding":{"x":{"field":"x","type":"quantitative","axis":null},"y":{"field":"y","type":"quantitative","axis":null},"detail":{"field":"s"},"order":{"field":"x","type":"quantitative"}}},
 {"data":{"name":"band"},"mark":{"type":"area","color":"#2f5ba8","opacity":1,"clip":true},
  "encoding":{"x":{"field":"x","type":"quantitative","axis":null},"y":{"field":"hi","type":"quantitative","axis":null},"y2":{"field":"lo"}}},
 {"data":{"name":"blue"},"mark":{"type":"line","color":"#2f5ba8","strokeWidth":2,"clip":true},
  "encoding":{"x":{"field":"x","type":"quantitative","axis":null},"y":{"field":"y","type":"quantitative","axis":null},"detail":{"field":"s"},"order":{"field":"x","type":"quantitative"}}},
 {"data":{"name":"black"},"mark":{"type":"line","color":"#111111","strokeWidth":2.2,"clip":true},
  "encoding":{"x":{"field":"x","type":"quantitative","axis":null},"y":{"field":"y","type":"quantitative","axis":null},"detail":{"field":"s"},"order":{"field":"x","type":"quantitative"}}},
 {"data":{"name":"leader"},"mark":{"type":"rule","color":"#222222","strokeWidth":1},
  "encoding":{"x":{"field":"x","type":"quantitative","axis":null},"y":{"field":"y","type":"quantitative","axis":null},"x2":{"field":"x2"},"y2":{"field":"y2"}}},
 {"data":{"name":"labels"},"mark":{"type":"text","align":"left","baseline":"alphabetic","font":"Liberation Serif, Times New Roman, Times, DejaVu Serif, serif","fontSize":23},
  "encoding":{"x":{"field":"x","type":"quantitative","axis":null},"y":{"field":"y","type":"quantitative","axis":null},"text":{"field":"t"},
   "color":{"field":"c","type":"nominal","scale":{"domain":["k","r","g","b"],"range":["#111111","#ec2227","#7dc142","#2f5ba8"]},"legend":null}}},
 {"data":{"name":"leader"},"mark":{"type":"point","opacity":0},
  "encoding":{"x":{"field":"x","type":"quantitative","axis":{"orient":"top","values":[0,5,10,15,20,25,30],"labels":false,"title":null}},"y":{"field":"y","type":"quantitative","axis":{"orient":"right","values":[-4,-2,0,2,4,6,8],"labels":false,"title":null}}}}
]
}
